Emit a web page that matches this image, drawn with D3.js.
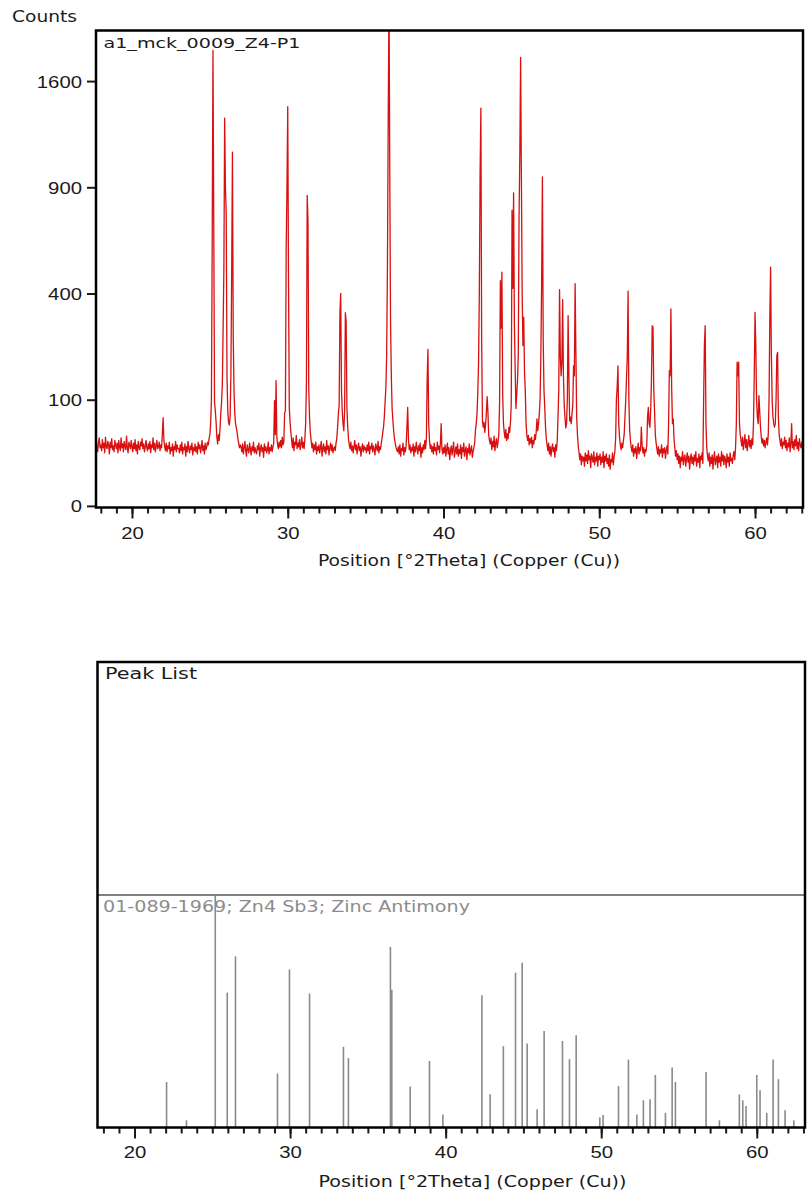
<!DOCTYPE html>
<html>
<head>
<meta charset="utf-8">
<script src="https://cdn.jsdelivr.net/npm/d3@7"></script>
<style>
    body { margin: 0; background: #fff; }
    svg { display: block; font-family: "DejaVu Sans", Verdana, sans-serif; }
</style>
</head>
<body>
<svg id="chart" width="810" height="1193"></svg>
<script>
// measured scan, 0.05 deg steps, one row per degree
var scanStep = 0.05;
var scanRows = [
    [17.6, [34,28,38,31,26,36,41,30]],
    [18, [33,27,39,30,35,25,42,31,29,37,33,24,36,30,40,28,32,26,38,33]],
    [19, [29,35,25,38,31,27,41,30,34,26,37,32,28,43,30,25,36,33,29,38]],
    [20, [31,26,35,29,39,27,33,24,37,30,28,36,32,40,29,34,26,31,38,30]],
    [21, [27,34,29,37,25,33,30,41,28,35,26,32,38,29,31,36,27,33,30,46]],
    [22, [69,38,31,27,35,26,32,29,36,24,30,27,34,22,31,28,37,26,33,29]],
    [23, [29,25,33,27,36,24,30,28,34,22,31,26,37,29,25,32,28,35,23,30]],
    [24, [27,34,26,31,24,36,29,33,25,30,38,27,32,24,35,28,31,36,33,40]],
    [25, [45,60,98,610,1840,713,95,80,62,42,34,45,38,52,75,95,130,273,500,1333]],
    [26, [900,758,150,80,62,58,70,150,479,1110,257,120,75,60,54,48,40,35,30,33]],
    [27, [31,26,34,24,30,37,27,22,33,28,25,35,29,23,31,27,36,25,30,26]],
    [28, [24,32,28,35,22,29,33,26,30,21,34,27,31,25,28,36,24,30,27,33]],
    [29, [26,31,35,98,45,139,42,33,29,36,31,38,30,42,33,36,77,80,587,900]],
    [30, [1413,442,85,62,48,38,30,41,27,36,33,44,29,35,31,39,28,34,42,30]],
    [31, [36,29,40,60,135,855,713,120,69,48,38,30,35,26,33,28,36,24,31,27]],
    [32, [33,25,30,37,22,29,34,26,31,24,38,28,32,23,30,35,27,33,25,29]],
    [33, [31,27,35,40,55,75,90,328,400,120,80,60,50,80,331,300,85,55,40,33]],
    [34, [29,36,27,32,25,31,38,28,33,24,30,35,27,31,22,29,34,26,32,28]],
    [35, [30,25,33,27,36,24,31,29,35,26,32,28,23,34,30,27,37,25,31,28]],
    [36, [34,40,48,55,70,95,125,200,500,1318,2300,1000,300,150,85,65,50,40,35,30]],
    [37, [28,26,31,24,33,22,29,27,35,23,30,26,32,54,86,40,28,33,25,30]],
    [38, [27,34,22,31,26,36,29,24,32,27,35,21,30,25,33,28,38,29,40,139]],
    [39, [217,60,38,29,33,26,31,24,35,27,30,23,36,28,32,25,34,60,29,24]],
    [40, [30,25,33,22,28,35,24,30,19,27,32,23,29,36,21,26,31,24,34,22]],
    [41, [28,24,33,20,30,26,35,22,27,31,19,29,25,34,23,28,32,21,26,30]],
    [42, [35,50,60,75,112,180,400,988,1403,242,64,55,62,48,58,75,106,80,45,38]],
    [43, [34,41,28,37,31,43,27,35,40,30,36,45,93,450,280,484,110,60,48,41]],
    [44, [52,38,46,40,55,48,62,93,775,420,868,300,170,84,110,139,200,733,1100,1783]],
    [45, [969,400,228,316,160,118,60,45,38,44,33,40,35,42,30,38,34,45,39,48]],
    [46, [67,50,60,75,100,200,440,960,250,120,86,55,40,33,27,35,24,31,22,29]],
    [47, [34,26,30,21,33,27,37,69,120,415,200,150,180,377,150,90,69,54,60,100]],
    [48, [321,150,64,70,60,75,90,174,150,438,208,70,45,32,25,19,24,15,22,18]],
    [49, [21,14,25,18,23,16,27,19,22,13,24,20,17,26,15,21,18,25,14,22]],
    [50, [19,24,15,21,17,26,13,22,18,24,16,20,14,23,12,19,17,25,15,21]],
    [51, [26,40,100,125,174,60,42,33,28,35,30,38,45,70,100,146,200,409,100,52]],
    [52, [38,30,26,33,22,29,25,31,20,28,35,24,30,27,55,33,25,30,22,28]],
    [53, [26,33,70,86,60,55,80,140,288,283,120,80,45,35,29,24,31,22,28,25]],
    [54, [33,21,29,25,30,20,27,32,24,60,162,150,344,120,60,67,40,30,22,27]],
    [55, [19,24,16,22,13,21,18,26,15,20,23,14,19,25,17,22,12,20,24,16]],
    [56, [21,15,23,18,26,14,20,17,24,13,22,19,25,16,100,228,288,60,30,22]],
    [57, [18,25,14,21,16,23,12,20,26,15,19,22,13,24,17,21,14,26,18,23]],
    [58, [15,22,19,13,24,17,21,14,25,18,20,16,23,26,19,30,60,183,150,183]],
    [59, [60,45,38,32,42,28,36,45,30,39,27,35,44,31,38,29,40,33,60,150]],
    [60, [332,228,100,70,60,108,80,55,42,35,40,32,38,30,36,41,33,45,100,316]],
    [61, [505,200,100,70,60,55,60,100,200,209,70,45,38,32,40,29,36,33,42,30]],
    [62, [38,27,35,31,41,26,34,60,30,37,28,39,32,44,29,36,27,40,33,30]],
    [63, [36,28,38]]
];

var yTicks = [0, 100, 400, 900, 1600];
var xTicks = [20, 30, 40, 50, 60];

// reference pattern 01-089-1969 (relative intensity %)
var refPositions = [22.06, 23.34, 25.19, 25.96, 26.49, 29.19, 29.96, 31.25, 33.43, 33.75,
    36.45, 36.54, 37.72, 38.96, 39.82, 42.33, 42.86, 43.71, 44.49, 44.92,
    45.24, 45.88, 46.33, 47.51, 47.96, 48.39, 49.91, 50.12, 51.11, 51.75,
    52.29, 52.71, 53.14, 53.48, 54.13, 54.56, 54.77, 56.74, 57.6, 58.88,
    59.1, 59.31, 60.0, 60.21, 60.64, 61.05, 61.39, 61.82, 62.38];
var refIntensities = [19.6, 3.1, 100, 58, 73.6, 23.2, 68, 57.6, 34.7, 29.9,
    77.7, 59.3, 17.6, 28.6, 5.6, 56.9, 14.3, 35, 66.6, 70.9,
    36.1, 7.9, 41.5, 37.2, 29.4, 39.7, 4.3, 5.4, 17.8, 29.2,
    5.6, 11.7, 12.2, 22.6, 6.3, 25.8, 19.6, 23.9, 3.1, 14.2,
    11.7, 9.2, 22.6, 16, 6.3, 29.2, 20.8, 7.4, 3.1];

var yTitle = "Counts";
var sampleName = "a1_mck_0009_Z4-P1";
var peakTitle = "Peak List";
var refName = "01-089-1969; Zn4 Sb3; Zinc Antimony";
var xTitle = "Position [°2Theta] (Copper (Cu))";

var scan = [];
scanRows.forEach(function (row) {
    row[1].forEach(function (c, i) {
        scan.push({ pos: row[0] + i * scanStep, counts: c });
    });
});

var svg = d3.select("#chart");
var ink = "#1a1a1a";

// ---------- top: scan ----------
var x = d3.scaleLinear().domain([17.69, 63.08]).range([96, 803]);
var y = d3.scaleSqrt().domain([0, 2008]).range([505.9, 30]);

svg.append("clipPath").attr("id", "plotClip")
    .append("rect").attr("x", 96).attr("y", 31).attr("width", 707).attr("height", 477);

svg.append("path")
    .datum(scan)
    .attr("clip-path", "url(#plotClip)")
    .attr("fill", "none")
    .attr("stroke", "#d81010")
    .attr("stroke-width", 1.3)
    .attr("stroke-linejoin", "round")
    .attr("d", d3.line().x(function (d) { return x(d.pos); }).y(function (d) { return y(d.counts); }));

function bottomAxis(scale, yPos, labelBase) {
    var minor = svg.append("g").attr("transform", "translate(0," + yPos + ")")
        .call(d3.axisBottom(scale).tickValues(d3.range(18, 64)).tickSize(6).tickFormat(""));
    minor.select(".domain").remove();
    minor.selectAll("line").attr("stroke", ink).attr("stroke-width", 2);

    var major = svg.append("g").attr("transform", "translate(0," + yPos + ")")
        .call(d3.axisBottom(scale).tickValues(xTicks).tickSize(11).tickFormat(d3.format("d")));
    major.select(".domain").remove();
    major.selectAll("line").attr("stroke", ink).attr("stroke-width", 2);
    major.selectAll("text")
        .attr("y", labelBase).attr("dy", 0)
        .attr("fill", ink)
        .style("font-size", "16.5px")
        .attr("textLength", function (d) { return String(d).length * 11.3; })
        .attr("lengthAdjust", "spacingAndGlyphs");
}

bottomAxis(x, 507.5, 31.8);

var yAxis = svg.append("g").attr("transform", "translate(96,0)")
    .call(d3.axisLeft(y).tickValues(yTicks).tickSize(9).tickPadding(5).tickFormat(d3.format("d")));
yAxis.select(".domain").remove();
yAxis.selectAll("line").attr("stroke", ink).attr("stroke-width", 2);
yAxis.selectAll("text")
    .attr("fill", ink)
    .attr("dy", "0.36em")
    .style("font-size", "16.5px")
    .attr("textLength", function (d) { return String(d).length * 11.3; })
    .attr("lengthAdjust", "spacingAndGlyphs");

svg.append("rect")
    .attr("x", 96).attr("y", 30.5).attr("width", 707).attr("height", 477)
    .attr("fill", "none").attr("stroke", "#000").attr("stroke-width", 2.5);

svg.append("text").attr("x", 12).attr("y", 21.5)
    .attr("fill", ink).style("font-size", "16px")
    .attr("textLength", 65).attr("lengthAdjust", "spacingAndGlyphs")
    .text(yTitle);

svg.append("text").attr("x", 103.5).attr("y", 48)
    .attr("fill", ink).style("font-size", "14px")
    .attr("textLength", 197).attr("lengthAdjust", "spacingAndGlyphs")
    .text(sampleName);

svg.append("text").attr("x", 469).attr("y", 566)
    .attr("text-anchor", "middle")
    .attr("fill", ink).style("font-size", "16.5px")
    .attr("textLength", 302).attr("lengthAdjust", "spacingAndGlyphs")
    .text(xTitle);

// ---------- bottom: peak list / reference sticks ----------
var x2 = d3.scaleLinear().domain([17.62, 63.1]).range([97.5, 805]);
var y2 = d3.scaleLinear().domain([0, 100]).range([1127.5, 895]);

svg.append("text").attr("x", 105).attr("y", 679)
    .attr("fill", ink).style("font-size", "16px")
    .attr("textLength", 92).attr("lengthAdjust", "spacingAndGlyphs")
    .text(peakTitle);

svg.append("line")
    .attr("x1", 97.5).attr("x2", 805).attr("y1", 895).attr("y2", 895)
    .attr("stroke", "#555").attr("stroke-width", 1.5);

svg.append("text").attr("x", 103).attr("y", 911.5)
    .attr("fill", "#8c8c8c").style("font-size", "16px")
    .attr("textLength", 367).attr("lengthAdjust", "spacingAndGlyphs")
    .text(refName);

svg.append("g").selectAll("line")
    .data(refPositions)
    .enter().append("line")
    .attr("x1", function (d) { return x2(d); })
    .attr("x2", function (d) { return x2(d); })
    .attr("y1", y2(0))
    .attr("y2", function (d, i) { return y2(refIntensities[i]); })
    .attr("stroke", "#8a8a8a")
    .attr("stroke-width", 1.6);

bottomAxis(x2, 1127.5, 30.8);

svg.append("rect")
    .attr("x", 97.5).attr("y", 662).attr("width", 707.5).attr("height", 465.5)
    .attr("fill", "none").attr("stroke", "#000").attr("stroke-width", 2.5);

svg.append("text").attr("x", 472.5).attr("y", 1186.5)
    .attr("text-anchor", "middle")
    .attr("fill", ink).style("font-size", "16.5px")
    .attr("textLength", 308).attr("lengthAdjust", "spacingAndGlyphs")
    .text(xTitle);
</script>
</body>
</html>
